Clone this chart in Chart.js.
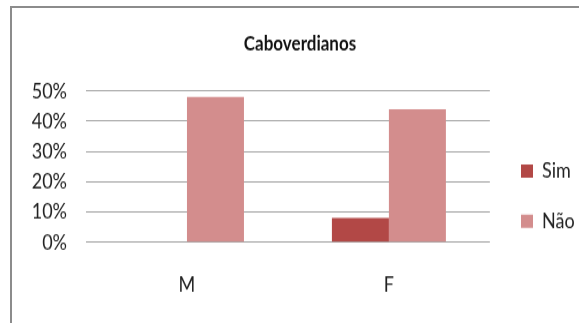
<!DOCTYPE html>
<html>
<head>
<meta charset="utf-8">
<script src="https://cdn.jsdelivr.net/npm/chart.js@4/dist/chart.umd.min.js"></script>
<style>
  html, body { margin: 0; padding: 0; background: #fff; }
  #wrap { position: relative; width: 579px; height: 323px; overflow: hidden; }
  #frame {
    position: absolute; left: 10px; top: 6px; width: 640px; height: 400px;
    border-top: 2px solid #8c8c8c; border-left: 2px solid #8c8c8c;
    box-sizing: border-box; pointer-events: none;
  }
  /* the drawing is laid out on a shorter canvas and stretched to full height,
     which gives the tall, narrow lettering of the original chart */
  canvas { position: absolute; left: 0; top: 0; transform-origin: 0 0; transform: scaleY(1.2007); }
</style>
</head>
<body>
<div id="wrap">
  <div id="frame"></div>
  <canvas id="chart" width="579" height="269"></canvas>
</div>
<script>
// Survey answers of Cape Verdeans by sex, as percent of all respondents
const title = 'Caboverdianos';
const categories = ['M', 'F'];
const seriesNames = ['Sim', 'Não'];
const simValues = [0, 8];
const naoValues = [48, 44];
const yTicks = [0, 10, 20, 30, 40, 50];

const FONT = 'Lato, "Open Sans", sans-serif';
const LEGEND_PAD = 23.7;

// Places the legend block beside the lower half of the plot
const legendPlace = {
  id: 'legendPlace',
  afterLayout(chart) {
    const lg = chart.legend;
    if (!lg) return;
    const w = lg.right - lg.left;
    const h = lg.bottom - lg.top;
    lg.left = 521 - LEGEND_PAD;
    lg.right = lg.left + w;
    lg.top = 133.5 - LEGEND_PAD;
    lg.bottom = lg.top + h;
    const colH = (lg.columnSizes && lg.columnSizes[0]) ? lg.columnSizes[0].height : 0;
    lg.bottom = lg.top + colH + LEGEND_PAD;
  }
};

new Chart(document.getElementById('chart'), {
  type: 'bar',
  data: {
    labels: categories,
    datasets: [
      { label: seriesNames[0], data: simValues, backgroundColor: '#b24846' },
      { label: seriesNames[1], data: naoValues, backgroundColor: '#d38d8d' }
    ]
  },
  plugins: [legendPlace],
  options: {
    responsive: false,
    animation: false,
    devicePixelRatio: 1,
    categoryPercentage: 0.5645,
    barPercentage: 1.0,
    layout: { padding: { left: 22.8, right: 1.8, top: 0, bottom: 20.7 } },
    plugins: {
      title: {
        display: true,
        text: title,
        color: '#111',
        font: { family: FONT, size: 17, weight: 'bold', lineHeight: 1.2 },
        padding: { top: 26.5, bottom: 28.9 }
      },
      legend: {
        position: 'right',
        labels: {
          boxWidth: 12,
          boxHeight: 11,
          padding: LEGEND_PAD,
          color: '#222',
          font: { family: FONT, size: 18 }
        }
      },
      tooltip: { enabled: false }
    },
    scales: {
      x: {
        grid: { display: false, drawTicks: true, tickLength: 25 },
        border: { display: false },
        ticks: {
          padding: 0,
          color: '#222',
          font: { family: FONT, size: 18 }
        }
      },
      y: {
        min: yTicks[0],
        max: yTicks[yTicks.length - 1],
        afterBuildTicks: (axis) => { axis.ticks = yTicks.map(v => ({ value: v })); },
        afterFit: (axis) => { axis.width = 63.2; },
        grid: { color: '#a3a3a3', lineWidth: 1, drawTicks: false },
        border: { display: false },
        ticks: {
          autoSkip: false,
          padding: 19,
          color: '#222',
          font: { family: FONT, size: 18 },
          callback: (v) => v + '%'
        }
      }
    }
  }
});
</script>
</body>
</html>
